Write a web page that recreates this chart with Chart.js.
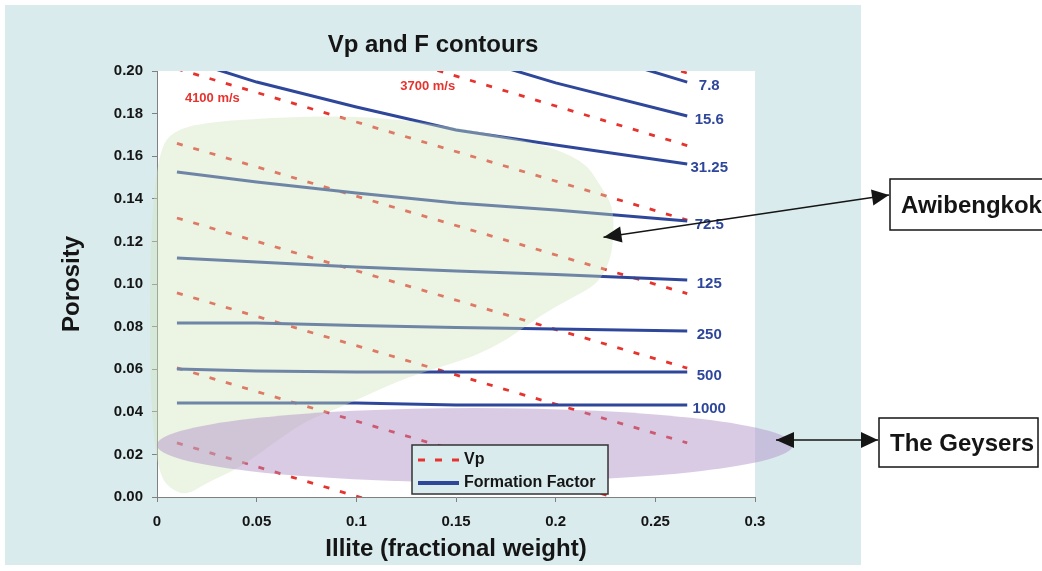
<!DOCTYPE html>
<html>
<head>
<meta charset="utf-8">
<title>Vp and F contours</title>
<script src="https://cdn.jsdelivr.net/npm/chart.js@4.4.1/dist/chart.umd.min.js"></script>
<style>
  html, body { margin: 0; padding: 0; background: #fff; }
  canvas { display: block; }
</style>
</head>
<body>
<canvas id="chart" width="1042" height="571"></canvas>
<script>
// illite fraction where the formation factor contours were sampled
const illiteX = [0.01, 0.05, 0.1, 0.15, 0.2, 0.266];

// formation factor contours (porosity at each illiteX, null = not plotted)
const ffNames = ['7.8', '15.6', '31.25', '72.5', '125', '250', '500', '1000'];
const ff7_8   = [null, null, null, null, 0.2134, 0.1948];
const ff15_6  = [null, null, null, 0.2085, 0.1944, 0.1789];
const ff31_25 = [0.2066, 0.1948, 0.1831, 0.1723, 0.1653, 0.1563];
const ff72_5  = [0.1526, 0.1479, 0.1427, 0.1380, 0.1347, 0.1296];
const ff125   = [0.1122, 0.1103, 0.1080, 0.1061, 0.1045, 0.1019];
const ff250   = [0.0817, 0.0817, 0.0805, 0.0796, 0.0789, 0.0779];
const ff500   = [0.0601, 0.0592, 0.0587, 0.0587, 0.0587, 0.0587];
const ff1000  = [0.0441, 0.0441, 0.0441, 0.0432, 0.0432, 0.0432];
const ffSeries = [ff7_8, ff15_6, ff31_25, ff72_5, ff125, ff250, ff500, ff1000];

// Vp contours are straight: porosity at the first and last illite value
const vpIllite = [0.01, 0.266];
const vpStart = [0.272, 0.237, 0.201, 0.166, 0.131, 0.0958, 0.0606, 0.0254];
const vpEnd   = [0.199, 0.165, 0.130, 0.0955, 0.0605, 0.0254, -0.0104, -0.0458];

// velocity annotations: text, illite, porosity
const vpNotes = [['4100 m/s', 0.014, 0.1854], ['3700 m/s', 0.122, 0.191]];

// Awibengkok field outline (illite, porosity)
const awiX = [0.0015, 0.008, 0.025, 0.058, 0.092, 0.125, 0.159, 0.192, 0.214, 0.222, 0.229, 0.229,
              0.227, 0.221, 0.209, 0.192, 0.176, 0.159, 0.142, 0.125, 0.108, 0.092, 0.075, 0.058,
              0.042, 0.025, 0.015, 0.008, 0.0015, -0.002, -0.0035, -0.0035, -0.002];
const awiY = [0.163, 0.172, 0.176, 0.178, 0.179, 0.177, 0.172, 0.166, 0.158, 0.147, 0.136, 0.121,
              0.110, 0.100, 0.094, 0.085, 0.074, 0.066, 0.061, 0.056, 0.049, 0.042, 0.036, 0.025,
              0.014, 0.0066, 0.001, 0.003, 0.0094, 0.030, 0.061, 0.108, 0.139];

// The Geysers range: centre and half-widths (illite, porosity)
const geysersCentre = [0.1595, 0.0244];
const geysersHalf = [0.1595, 0.0174];

const FONT = "'Liberation Sans', Arial, sans-serif";
const PANEL = '#DAEBEE';
const RED = '#E6332E';
const BLUE = '#2F479A';
const INK = '#151515';

const datasets = [];
ffSeries.forEach((vals, i) => {
  datasets.push({
    label: 'Formation Factor',
    ffName: ffNames[i],
    data: illiteX.map((x, j) => ({ x, y: vals[j] })).filter(p => p.y !== null),
    borderColor: BLUE,
    borderWidth: 3,
    fill: false
  });
});
vpStart.forEach((v, i) => {
  datasets.push({
    label: 'Vp',
    data: [{ x: vpIllite[0], y: v }, { x: vpIllite[1], y: vpEnd[i] }],
    borderColor: RED,
    borderWidth: 2.8,
    borderDash: [6, 11],
    borderCapStyle: 'butt',
    fill: false
  });
});

function arrowHead(ctx, fx, fy, tx, ty, len, half) {
  const a = Math.atan2(ty - fy, tx - fx);
  const bx = tx - len * Math.cos(a), by = ty - len * Math.sin(a);
  ctx.beginPath();
  ctx.moveTo(tx, ty);
  ctx.lineTo(bx + half * Math.sin(a), by - half * Math.cos(a));
  ctx.lineTo(bx - half * Math.sin(a), by + half * Math.cos(a));
  ctx.closePath();
  ctx.fill();
}

function doubleArrow(ctx, x1, y1, x2, y2) {
  ctx.save();
  ctx.strokeStyle = INK;
  ctx.fillStyle = INK;
  ctx.lineWidth = 1.5;
  ctx.beginPath();
  ctx.moveTo(x1, y1);
  ctx.lineTo(x2, y2);
  ctx.stroke();
  arrowHead(ctx, x2, y2, x1, y1, 18, 8);
  arrowHead(ctx, x1, y1, x2, y2, 17, 8);
  ctx.restore();
}

function smoothClosed(ctx, pts) {
  const n = pts.length;
  const mid = (a, b) => [(a[0] + b[0]) / 2, (a[1] + b[1]) / 2];
  const m0 = mid(pts[n - 1], pts[0]);
  ctx.moveTo(m0[0], m0[1]);
  for (let i = 0; i < n; i++) {
    const p = pts[i], m = mid(p, pts[(i + 1) % n]);
    ctx.quadraticCurveTo(p[0], p[1], m[0], m[1]);
  }
  ctx.closePath();
}

function textBox(ctx, text, x, y, w, h) {
  ctx.save();
  ctx.fillStyle = '#fff';
  ctx.fillRect(x, y, w, h);
  ctx.strokeStyle = INK;
  ctx.lineWidth = 1.5;
  ctx.strokeRect(x, y, w, h);
  ctx.fillStyle = INK;
  ctx.font = 'bold 24px ' + FONT;
  ctx.textAlign = 'left';
  ctx.textBaseline = 'alphabetic';
  ctx.fillText(text, x + 11, y + h / 2 + 8);
  ctx.restore();
}

// panel and plot backgrounds
const backdrop = {
  id: 'backdrop',
  beforeDraw(chart) {
    const { ctx, chartArea: a } = chart;
    ctx.save();
    ctx.fillStyle = '#fff';
    ctx.fillRect(0, 0, chart.width, chart.height);
    ctx.fillStyle = PANEL;
    ctx.fillRect(5, 5, 856, 560);
    ctx.fillStyle = '#fff';
    ctx.fillRect(a.left, a.top, a.right - a.left, a.bottom - a.top);
    ctx.restore();
  }
};

// contour labels
const contourLabels = {
  id: 'contourLabels',
  afterDatasetsDraw(chart) {
    const { ctx, scales: { x, y } } = chart;
    ctx.save();
    ctx.font = 'bold 15px ' + FONT;
    ctx.fillStyle = BLUE;
    ctx.textAlign = 'center';
    ctx.textBaseline = 'middle';
    chart.data.datasets.forEach(ds => {
      if (!ds.ffName) return;
      const last = ds.data[ds.data.length - 1];
      ctx.fillText(ds.ffName, x.getPixelForValue(last.x) + 22, y.getPixelForValue(last.y) + 4);
    });
    ctx.font = 'bold 13px ' + FONT;
    ctx.fillStyle = RED;
    ctx.textAlign = 'left';
    ctx.textBaseline = 'alphabetic';
    vpNotes.forEach(([t, ix, py]) => {
      ctx.fillText(t, x.getPixelForValue(ix), y.getPixelForValue(py));
    });
    ctx.restore();
  }
};

// field outlines, legend, callouts and title
const overlays = {
  id: 'overlays',
  afterDraw(chart) {
    const { ctx, chartArea: a, scales: { x, y } } = chart;
    ctx.save();

    ctx.fillStyle = 'rgba(208, 228, 186, 0.4)';
    ctx.beginPath();
    smoothClosed(ctx, awiX.map((v, i) => [x.getPixelForValue(v), y.getPixelForValue(awiY[i])]));
    ctx.fill();

    const cx = x.getPixelForValue(geysersCentre[0]);
    const cy = y.getPixelForValue(geysersCentre[1]);
    const rx = x.getPixelForValue(geysersCentre[0] + geysersHalf[0]) - cx;
    const ry = cy - y.getPixelForValue(geysersCentre[1] + geysersHalf[1]);
    ctx.fillStyle = 'rgba(172, 140, 198, 0.45)';
    ctx.beginPath();
    ctx.ellipse(cx, cy, rx, ry, 0, 0, Math.PI * 2);
    ctx.fill();

    // legend
    const lx = a.left + 255, ly = a.top + 374;
    ctx.fillStyle = PANEL;
    ctx.fillRect(lx, ly, 196, 49);
    ctx.strokeStyle = '#333';
    ctx.lineWidth = 1.5;
    ctx.strokeRect(lx, ly, 196, 49);
    ctx.lineWidth = 2.8;
    ctx.strokeStyle = RED;
    ctx.setLineDash([7, 10]);
    ctx.beginPath();
    ctx.moveTo(lx + 6, ly + 15);
    ctx.lineTo(lx + 47, ly + 15);
    ctx.stroke();
    ctx.setLineDash([]);
    ctx.lineWidth = 4;
    ctx.strokeStyle = BLUE;
    ctx.beginPath();
    ctx.moveTo(lx + 6, ly + 38);
    ctx.lineTo(lx + 47, ly + 38);
    ctx.stroke();
    ctx.fillStyle = INK;
    ctx.font = 'bold 16px ' + FONT;
    ctx.textBaseline = 'middle';
    ctx.textAlign = 'left';
    ctx.fillText('Vp', lx + 52, ly + 15);
    ctx.fillText('Formation Factor', lx + 52, ly + 38);

    // callouts
    textBox(ctx, 'Awibengkok', 890, 179, 160, 51);
    textBox(ctx, 'The Geysers', 879, 418, 159, 49);
    doubleArrow(ctx, x.getPixelForValue(0.224), y.getPixelForValue(0.122), 889, 195);
    doubleArrow(ctx, 776, 440, 878, 440);

    ctx.fillStyle = INK;
    ctx.font = 'bold 24px ' + FONT;
    ctx.textAlign = 'center';
    ctx.textBaseline = 'alphabetic';
    ctx.fillText('Vp and F contours', 433, 52);
    ctx.restore();
  }
};

const tickFont = { family: FONT, size: 15, weight: 'bold' };
const titleFont = { family: FONT, size: 24, weight: 'bold' };

new Chart(document.getElementById('chart'), {
  type: 'line',
  data: { datasets },
  options: {
    responsive: false,
    animation: false,
    layout: { padding: { left: 5, top: 71, right: 287, bottom: 0 } },
    elements: { point: { radius: 0 }, line: { tension: 0 } },
    plugins: {
      legend: { display: false },
      title: { display: false },
      tooltip: { enabled: false }
    },
    scales: {
      x: {
        type: 'linear',
        min: 0,
        max: 0.3,
        afterFit: s => { s.height = 74; },
        ticks: { stepSize: 0.05, padding: 11, color: INK, font: tickFont,
                 callback: v => String(+v.toFixed(2)) },
        grid: { drawOnChartArea: false, tickLength: 5, color: '#808080', tickColor: '#808080' },
        border: { color: '#808080', width: 1 },
        title: { display: true, text: 'Illite (fractional weight)', color: INK, font: titleFont,
                 padding: { top: 0, bottom: 7 } }
      },
      y: {
        type: 'linear',
        min: 0,
        max: 0.2,
        afterFit: s => { s.width = 152; },
        ticks: { stepSize: 0.02, padding: 9, color: INK, font: tickFont,
                 callback: v => v.toFixed(2) },
        grid: { drawOnChartArea: false, tickLength: 5, color: '#808080', tickColor: '#808080' },
        border: { color: '#808080', width: 1 },
        title: { display: true, text: 'Porosity', color: INK, font: titleFont,
                 padding: { top: 53, bottom: 0 } }
      }
    }
  },
  plugins: [backdrop, contourLabels, overlays]
});
</script>
</body>
</html>
